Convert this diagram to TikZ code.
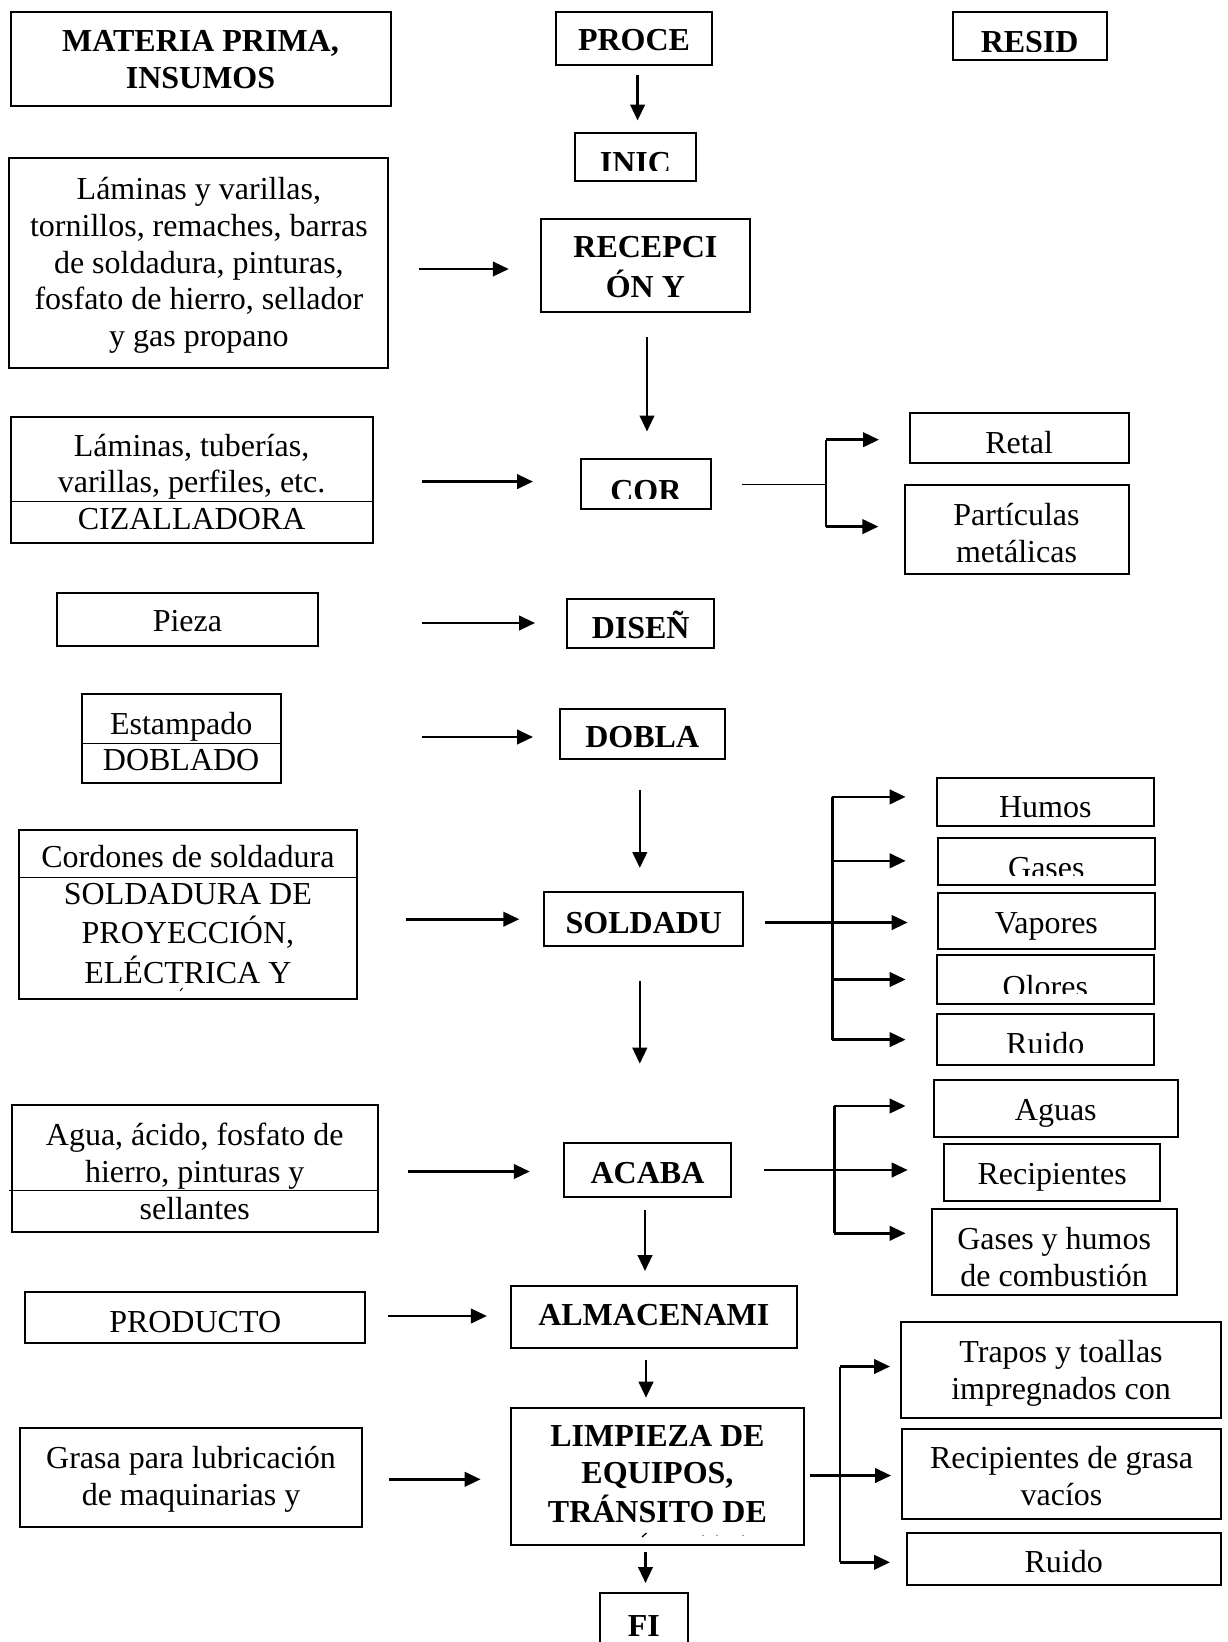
\documentclass[tikz,border=0pt]{standalone}
\usepackage{fontspec}
\setmainfont{Liberation Serif}
\usetikzlibrary{arrows.meta,fit}
\begin{document}
\begin{tikzpicture}[x=1pt,y=-1pt,
  box/.style={draw, line width=2pt, inner sep=0pt},
  txt/.style={font=\fontsize{32}{36.8}\selectfont, align=center, inner sep=0pt},
  btxt/.style={font=\fontsize{32}{36.8}\selectfont\bfseries, align=center, inner sep=0pt},
  arr/.style={line width=2.6pt, -{Triangle[length=16pt,width=14.5pt]}},
  br/.style={line width=2.4pt},
  thinline/.style={line width=1.3pt},
  sepline/.style={line width=1.3pt},
]
\useasboundingbox (0,0) rectangle (1228,1642);
\fill[white] (0,0) rectangle (1228,1642);

% ---------- header row ----------
\node[box, fit={(10.5,11.5)(390.5,105.7)}] (mp) {};
\node[btxt] (mpT) at (mp.center |- 0,63) {\strut MATERIA PRIMA,\\\strut INSUMOS};
\node[box, fit={(556,11.5)(712,65)}] (proce) {};
\node[btxt] (proceT) at (proce.center |- 0,43.5) {\strut PROCE};
\node[box, fit={(952.7,11.5)(1106.6,59.7)}] (resid) {};
\begin{scope}
  \clip (resid.north west) rectangle (resid.east |- 0,51.2);
  \node[btxt, anchor=base] (residT) at (resid.center |- 0,52.8) {RESID};
\end{scope}

% ---------- process column ----------
\node[box, fit={(574.7,133)(696.2,181)}] (inic) {};
\begin{scope}
  \clip (inic.north west) rectangle (inic.east |- 0,170.7);
  \node[btxt, anchor=base] (inicT) at (inic.center |- 0,173.2) {INIC};
\end{scope}
\node[box, fit={(541.2,218.8)(749.6,312)}] (recep) {};
\node[btxt] (recepT) at (recep.center |- 0,270) {\strut RECEPCI\\\strut ÓN Y};
\node[box, fit={(581,458.5)(710.8,508.8)}] (cor) {};
\begin{scope}
  \clip (cor.north west) rectangle (cor.east |- 0,498.5);
  \node[btxt, anchor=base] (corT) at (cor.center |- 0,501.5) {COR};
\end{scope}
\node[box, fit={(567.4,598.8)(714,648)}] (disen) {};
\node[btxt] (disenT) at (disen.center |- 0,630.5) {\strut DISEÑ};
\node[box, fit={(560,708.8)(724.5,759)}] (dobla) {};
\node[btxt] (doblaT) at (dobla.center |- 0,740) {\strut DOBLA};
\node[box, fit={(544.4,892)(743.3,946.4)}] (sold) {};
\node[btxt] (soldT) at (sold.center |- 0,925.8) {\strut SOLDADU};
\node[box, fit={(564.3,1143.2)(730.7,1196.6)}] (acaba) {};
\node[btxt] (acabaT) at (acaba.center |- 0,1176) {\strut ACABA};
\node[box, fit={(510.9,1285.6)(796.7,1348.4)}] (almac) {};
\node[btxt] (almacT) at (almac.center |- 0,1318.5) {\strut ALMACENAMI};
\node[box, fit={(510.9,1408)(804,1544.6)}] (limp) {};
\node[btxt] (limpT) at (limp.center |- 0,1477) {\strut LIMPIEZA DE\\\strut EQUIPOS,\\\strut TRÁNSITO DE};
\draw[line width=1.3pt] (642,1537) -- (646.5,1533);
\fill[black!45] (703,1535.5) circle (0.9);
\fill[black!45] (717,1535.5) circle (0.9);
\fill[black!45] (743,1535.5) circle (0.9);
\node[box, fit={(599.9,1593.4)(687.8,1665)}] (fi) {};
\node[btxt] (fiT) at (fi.center |- 0,1629.3) {\strut FI};

% ---------- inputs column ----------
\node[box, fit={(9.4,158)(388.4,367.5)}] (in1) {};
\node[txt] (in1T) at (in1.center |- 0,265.7) {\strut Láminas y varillas,\\\strut tornillos, remaches, barras\\\strut de soldadura, pinturas,\\\strut fosfato de hierro, sellador\\\strut y gas propano};
\node[box, fit={(10.5,416.7)(372.7,543.3)}] (in2) {};
\draw[sepline] (in2.west |- 0,501.5) -- (in2.east |- 0,501.5);
\node[txt] (in2T) at (in2.center |- 0,485.5) {\strut Láminas, tuberías,\\\strut varillas, perfiles, etc.\\\strut CIZALLADORA};
\node[box, fit={(56.5,592.5)(318.3,646)}] (pieza) {};
\node[txt] (piezaT) at (pieza.center |- 0,624.3) {\strut Pieza};
\node[box, fit={(81.7,694)(280.6,783)}] (estamp) {};
\draw[sepline] (estamp.west |- 0,743.3) -- (estamp.east |- 0,743.3);
\node[txt] (estampT) at (estamp.center |- 0,745.2) {\strut Estampado\\\strut DOBLADO};
\node[box, fit={(18.8,830)(357,998.7)}] (in5) {};
\draw[sepline] (in5.west |- 0,877.3) -- (in5.east |- 0,877.3);
\node[txt] (in5T) at (in5.center |- 0,918) {\strut Cordones de soldadura\\\strut SOLDADURA DE\\\strut PROYECCIÓN,\\\strut ELÉCTRICA Y};
\draw[line width=1pt] (180,991) -- (182.5,988);
\node[box, fit={(11.5,1104.5)(378,1232.2)}] (in6) {};
\draw[sepline] ([xshift=-2pt]in6.west |- 0,1190.8) -- (in6.east |- 0,1190.8);
\node[txt] (in6T) at (in6.center |- 0,1175) {\strut Agua, ácido, fosfato de\\\strut hierro, pinturas y\\\strut sellantes};
\node[box, fit={(25,1292)(365.4,1343.2)}] (prod) {};
\node[txt] (prodT) at (prod.center |- 0,1325) {\strut PRODUCTO};
\node[box, fit={(19.9,1428)(362.2,1527.4)}] (grasa) {};
\node[txt] (grasaT) at (grasa.center |- 0,1480) {\strut Grasa para lubricación\\\strut de maquinarias y};

% ---------- residues column ----------
\node[box, fit={(909.8,412.5)(1128.5,462.7)}] (retal) {};
\node[txt] (retalT) at (retal.center |- 0,446.3) {\strut Retal};
\node[box, fit={(904.5,484.7)(1128.5,573.7)}] (part) {};
\node[txt] (partT) at (part.center |- 0,537) {\strut Partículas\\\strut metálicas};

\node[box, fit={(937,777.8)(1153.7,826)}] (humos) {};
\node[txt] (humosT) at (humos.center |- 0,809.7) {\strut Humos};
\node[box, fit={(938,837.5)(1154.7,884.6)}] (gases) {};
\begin{scope}
  \clip (gases.north west) rectangle (gases.east |- 0,875.2);
  \node[txt, anchor=base] (gasesT) at (gases.center |- 0,878.7) {Gases};
\end{scope}
\node[box, fit={(938,893)(1154.7,948.5)}] (vapores) {};
\node[txt] (vaporesT) at (vapores.center |- 0,925.8) {\strut Vapores};
\node[box, fit={(937,954.8)(1153.7,1004)}] (olores) {};
\begin{scope}
  \clip (olores.north west) rectangle (olores.east |- 0,993.5);
  \node[txt, anchor=base] (oloresT) at (olores.center |- 0,997) {Olores};
\end{scope}
\node[box, fit={(937,1014.4)(1153.7,1064.7)}] (ruidoA) {};
\begin{scope}
  \clip (ruidoA.north west) rectangle (ruidoA.east |- 0,1052.8);
  \node[txt, anchor=base] (ruidoAT) at (ruidoA.center |- 0,1054.7) {Ruido};
\end{scope}

\node[box, fit={(933.8,1080.4)(1177.8,1137)}] (aguas) {};
\node[txt] (aguasT) at (aguas.center |- 0,1113.5) {\strut Aguas};
\node[box, fit={(944.3,1144.3)(1160,1200.8)}] (recip) {};
\node[txt] (recipT) at (recip.center |- 0,1177.5) {\strut Recipientes};
\node[box, fit={(931.7,1209.2)(1176.7,1295)}] (gasesh) {};
\node[txt] (gaseshT) at (gasesh.center |- 0,1260.3) {\strut Gases y humos\\\strut de combustión};

\node[box, fit={(901.4,1322.2)(1220.7,1417.5)}] (trapos) {};
\node[txt] (traposT) at (trapos.center |- 0,1373.9) {\strut Trapos y toallas\\\strut impregnados con};
\node[box, fit={(902.4,1429)(1220.7,1519)}] (recg) {};
\node[txt] (recgT) at (recg.center |- 0,1480) {\strut Recipientes de grasa\\\strut vacíos};
\node[box, fit={(906.6,1532.7)(1220.7,1585)}] (ruidoB) {};
\node[txt] (ruidoBT) at (ruidoB.center |- 0,1565.5) {\strut Ruido};

% ---------- main vertical arrows ----------
\draw[arr, shorten <=9pt, shorten >=11.5pt] (proce.south -| 637.6,0) -- (inic.north -| 637.6,0);
\draw[arr, shorten <=24pt, shorten >=26pt] (recep.south -| 647,0) -- (cor.north -| 647,0);
\draw[arr, shorten <=30.4pt, shorten >=23pt] (dobla.south -| 639.8,0) -- (sold.north -| 639.8,0);
\draw[arr, shorten <=33.6pt, shorten >=78.5pt] (sold.south -| 639.8,0) -- (acaba.north -| 639.8,0);
\draw[arr, shorten <=12.6pt, shorten >=13.6pt] (acaba.south -| 645,0) -- (almac.north -| 645,0);
\draw[arr, shorten <=10.6pt, shorten >=9.3pt] (almac.south -| 646,0) -- (limp.north -| 646,0);
\draw[arr, shorten <=6.3pt, shorten >=9.4pt] (limp.south -| 645.5,0) -- (fi.north -| 645.5,0);

% ---------- input arrows ----------
\draw[arr, shorten <=29.3pt, shorten >=31.4pt] (in1.east |- 0,269) -- (recep.west |- 0,269);
\draw[arr, shorten <=48.2pt, shorten >=47pt] (in2.east |- 0,481.6) -- (cor.west |- 0,481.6);
\draw[arr, shorten <=102.6pt, shorten >=31.4pt] (pieza.east |- 0,623) -- (disen.west |- 0,623);
\draw[arr, shorten <=140.3pt, shorten >=26pt] (estamp.east |- 0,737) -- (dobla.west |- 0,737);
\draw[arr, shorten <=48pt, shorten >=24.1pt] (in5.east |- 0,919.2) -- (sold.west |- 0,919.2);
\draw[arr, shorten <=29pt, shorten >=33.5pt] (in6.east |- 0,1171.5) -- (acaba.west |- 0,1171.5);
\draw[arr, shorten <=22pt, shorten >=23pt] (prod.east |- 0,1316) -- (almac.west |- 0,1316);
\draw[arr, shorten <=26.2pt, shorten >=29.3pt] (grasa.east |- 0,1479.3) -- (limp.west |- 0,1479.3);

% ---------- residue branches ----------
% COR
\coordinate (corJ) at (826,484.5);
\draw[thinline, shorten <=30pt] (cor.east |- corJ) -- (corJ);
\draw[br] (corJ |- 0,439.7) -- (corJ |- 0,526.6);
\draw[arr, shorten >=29.8pt] (corJ |- 0,439.7) -- (retal.west |- 0,439.7);
\draw[arr, shorten >=25.1pt] (corJ |- 0,526.6) -- (part.west |- 0,526.6);
% SOLDADURA
\coordinate (solJ) at (832.3,922.5);
\draw[br] (solJ |- 0,796.9) -- (solJ |- 0,1039.6);
\draw[arr, shorten <=21pt, shorten >=29.3pt] (sold.east |- solJ) -- (vapores.west |- solJ);
\draw[arr, shorten >=30.4pt] (solJ |- 0,796.9) -- (humos.west |- 0,796.9);
\draw[arr, shorten >=31.4pt] (solJ |- 0,860.8) -- (gases.west |- 0,860.8);
\draw[arr, shorten >=30.4pt] (solJ |- 0,979.5) -- (olores.west |- 0,979.5);
\draw[arr, shorten >=30.4pt] (solJ |- 0,1039.6) -- (ruidoA.west |- 0,1039.6);
% ACABADO
\coordinate (acaJ) at (834.4,1170);
\draw[br] (acaJ |- 0,1106) -- (acaJ |- 0,1233.3);
\draw[arr, shorten <=32.5pt, shorten >=35.6pt] (acaba.east |- acaJ) -- (recip.west |- acaJ);
\draw[arr, shorten >=27.2pt] (acaJ |- 0,1106) -- (aguas.west |- 0,1106);
\draw[arr, shorten >=25.1pt] (acaJ |- 0,1233.3) -- (gasesh.west |- 0,1233.3);
% LIMPIEZA
\coordinate (limJ) at (840,1475.5);
\draw[br] (limJ |- 0,1366.5) -- (limJ |- 0,1562.3);
\draw[arr, shorten <=5.3pt, shorten >=10.4pt] (limp.east |- limJ) -- (recg.west |- limJ);
\draw[arr, shorten >=10.4pt] (limJ |- 0,1366.5) -- (trapos.west |- 0,1366.5);
\draw[arr, shorten >=15.6pt] (limJ |- 0,1562.3) -- (ruidoB.west |- 0,1562.3);
\end{tikzpicture}
\end{document}
